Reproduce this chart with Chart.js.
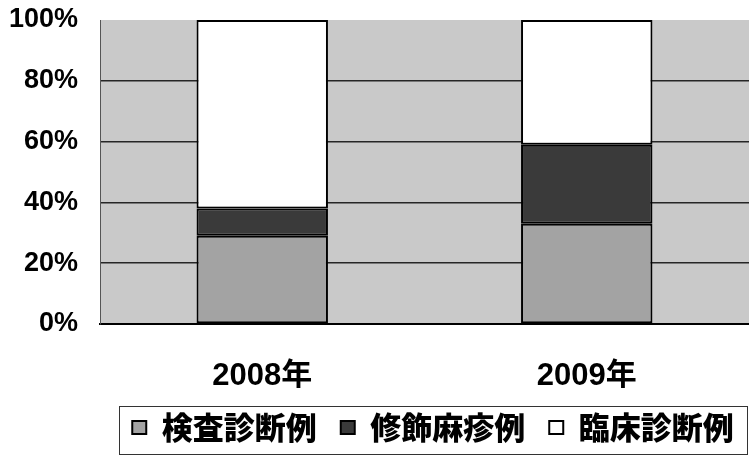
<!DOCTYPE html>
<html><head><meta charset="utf-8">
<script src="https://cdn.jsdelivr.net/npm/chart.js@4"></script>
<style>html,body{margin:0;padding:0;background:#fff}#wrap{width:749px;height:458px;position:relative}</style>
</head><body><div id="wrap"><canvas id="c"></canvas></div>
<script>
const categories = ['2008年', '2009年'];
const seriesNames = ['検査診断例', '修飾麻疹例', '臨床診断例'];
const labConfirmed = [29, 33];
const modifiedMeasles = [9, 26];
const clinicalDiagnosis = [62, 41];
const yTickValues = [0, 20, 40, 60, 80, 100];

const NUMFONT = "'Liberation Sans', Arial, 'Noto Sans CJK JP', sans-serif";
const CJK = "'Noto Sans CJK JP', 'Liberation Sans', sans-serif";
const LEGEND_CENTER = 433;

const plotBg = {
  id: 'plotBg',
  beforeDraw(chart) {
    const {ctx, chartArea: a} = chart;
    ctx.save();
    ctx.fillStyle = '#c9c9c9';
    ctx.fillRect(a.left, a.top, chart.width - a.left, a.bottom - a.top);
    ctx.restore();
    const lg = chart.legend;
    const shift = LEGEND_CENTER - (lg.left + lg.right) / 2;
    lg.left += shift; lg.right += shift;
  }
};
const legendBorder = {
  id: 'legendBorder',
  afterDraw(chart) {
    const lg = chart.legend;
    const cx = (lg.left + lg.right) / 2;
    const cy = lg.top + lg.options.labels.padding + lg.options.labels.font.size * 0.6;
    const ctx = chart.ctx;
    ctx.save();
    ctx.strokeStyle = '#333';
    ctx.lineWidth = 1;
    ctx.strokeRect(Math.round(cx - 314.5) + 0.5, Math.round(cy - 25) + 0.5, 628, 48);
    ctx.restore();
  }
};

new Chart(document.getElementById('c'), {
  type: 'bar',
  data: {
    labels: categories,
    datasets: [
      {label: seriesNames[0], data: labConfirmed, backgroundColor: '#a3a3a3', borderColor: '#000', borderWidth: 2, borderSkipped: false},
      {label: seriesNames[1], data: modifiedMeasles, backgroundColor: '#3a3a3a', borderColor: '#000', borderWidth: 2, borderSkipped: false},
      {label: seriesNames[2], data: clinicalDiagnosis, backgroundColor: '#ffffff', borderColor: '#000', borderWidth: 2, borderSkipped: false}
    ]
  },
  options: {
    responsive: true,
    maintainAspectRatio: false,
    animation: false,
    layout: {padding: {top: 20, right: 0, left: 0, bottom: 5}},
    datasets: {bar: {categoryPercentage: 1, barPercentage: 0.405}},
    plugins: {
      tooltip: {enabled: false},
      legend: {
        position: 'bottom',
        fullSize: true,
        labels: {
          color: '#000',
          font: {family: CJK, size: 31, weight: 900},
          boxWidth: 14,
          boxHeight: 13,
          padding: 24
        }
      }
    },
    scales: {
      x: {
        stacked: true,
        grid: {display: false},
        border: {display: true, color: '#000', width: 2},
        ticks: {color: '#000', font: {family: NUMFONT, size: 31, weight: 'bold'}, padding: 26},
        afterFit(s) { s.height = 64; }
      },
      y: {
        stacked: true,
        min: 0, max: 100,
        afterBuildTicks(s) { s.ticks = yTickValues.map(v => ({value: v})); },
        grid: {
          drawTicks: false,
          color: c => (c.tick && c.tick.value === 100) ? 'rgba(0,0,0,0)' : '#262626',
          lineWidth: 1.5
        },
        border: {display: true, color: '#555', width: 1},
        ticks: {color: '#000', font: {family: NUMFONT, size: 27, weight: 'bold'}, padding: 22, callback: v => v + '%'},
        afterFit(s) { s.width = 100; s.paddingTop = 0; s.paddingBottom = 0; }
      }
    }
  },
  plugins: [plotBg, legendBorder]
});
</script></body></html>
